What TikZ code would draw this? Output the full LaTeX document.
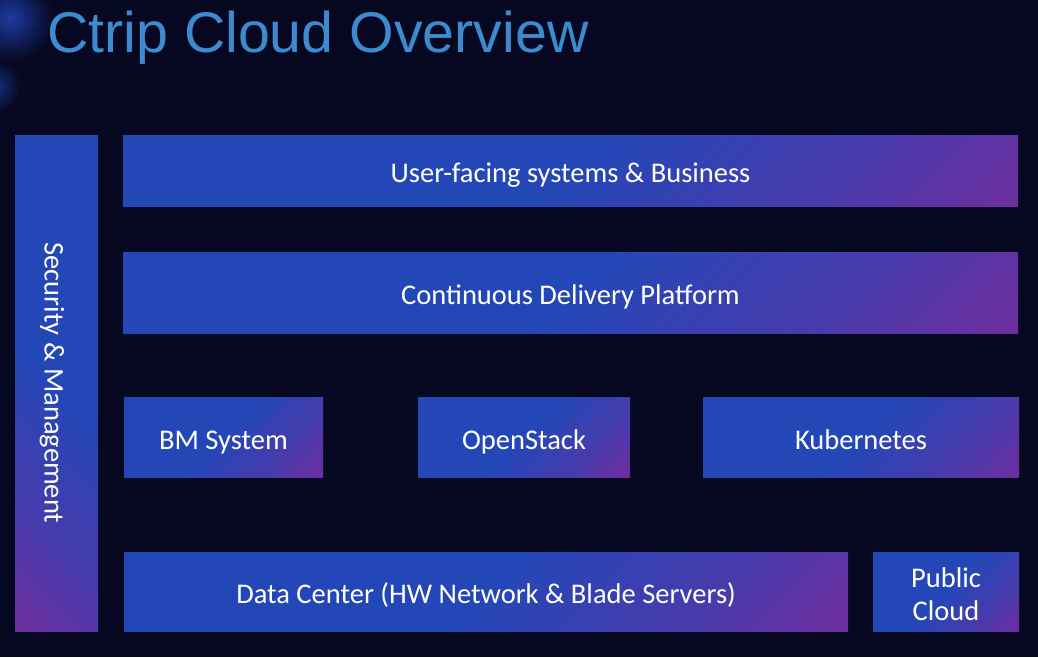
\documentclass[tikz,border=0pt]{standalone}
\usepackage{fontspec}
\setmainfont{Carlito}
\newfontfamily\titlefont{Liberation Sans}
\usetikzlibrary{calc}
\definecolor{bg}{HTML}{050820}
\definecolor{cblue}{HTML}{2447B8}
\definecolor{cpurp}{HTML}{6B2FA0}
\definecolor{ctitle}{HTML}{3C8AD0}
\definecolor{blob}{HTML}{1D3AA0}
\colorlet{cmid}{cpurp!50!cblue}
\pgfdeclareverticalshading{boxgrad}{100bp}{color(0bp)=(cpurp); color(33bp)=(cpurp); color(40bp)=(cmid); color(50bp)=(cblue); color(100bp)=(cblue)}
\tikzset{
  boxtext/.style={text=white, font=\fontsize{28.5}{32}\selectfont, align=center, inner sep=0pt},
  oneline/.style={text height=24pt, text depth=0pt},
  gbox/.style n args={3}{boxtext, minimum width=#1pt, minimum height=#2pt, outer sep=0pt,
    path picture={\shade[shading=boxgrad, shading angle=#3]
      ($(path picture bounding box.center)+(-#1/2-#2/2,-#1/2-#2/2)$) rectangle
      ($(path picture bounding box.center)+(#1/2+#2/2,#1/2+#2/2)$);}},
  titletext/.style={anchor=base west, inner sep=0pt, text=ctitle, font=\titlefont\fontsize{57.3}{60}\selectfont}
}
\begin{document}
\begin{tikzpicture}[x=1pt, y=-1pt]
\fill[bg] (0,0) rectangle (1038,657);
\useasboundingbox (0,0) rectangle (1038,657);
% soft decorative glows top-left
\shade[inner color=blob, outer color=bg] (10,18) circle (44);
\shade[inner color=blob!80!bg, outer color=bg] (-6,86) circle (27);
% title
\node[titletext] (title) at (47,52) {Ctrip Cloud Overview};
% boxes
\node[gbox={83}{496}{-45}] (sec) at (56.5,383) {};
\node[boxtext, oneline, rotate=-90] (secT) at (sec.center) {Security \& Management};
\node[gbox={895}{71}{45}, oneline] (user) at (570.5,170.5) {User-facing systems \& Business};
\node[gbox={895}{81}{45}, oneline] (cdp) at (570.5,292.5) {Continuous Delivery Platform};
\node[gbox={199}{80}{45}, oneline] (bm) at (223.5,437) {BM System};
\node[gbox={212}{80}{45}, oneline] (os) at (524,437) {OpenStack};
\node[gbox={316}{80}{45}, oneline] (k8s) at (861,437) {Kubernetes};
\node[gbox={724}{79}{45}, oneline] (dc) at (486,591.5) {Data Center (HW Network \& Blade Servers)};
\node[gbox={146}{79}{45}] (pc) at (946,591.5) {};
\node[boxtext, font=\fontsize{28.5}{33}\selectfont] (pcT) at ([yshift=-3pt]pc.center) {Public\\Cloud};
\end{tikzpicture}
\end{document}
